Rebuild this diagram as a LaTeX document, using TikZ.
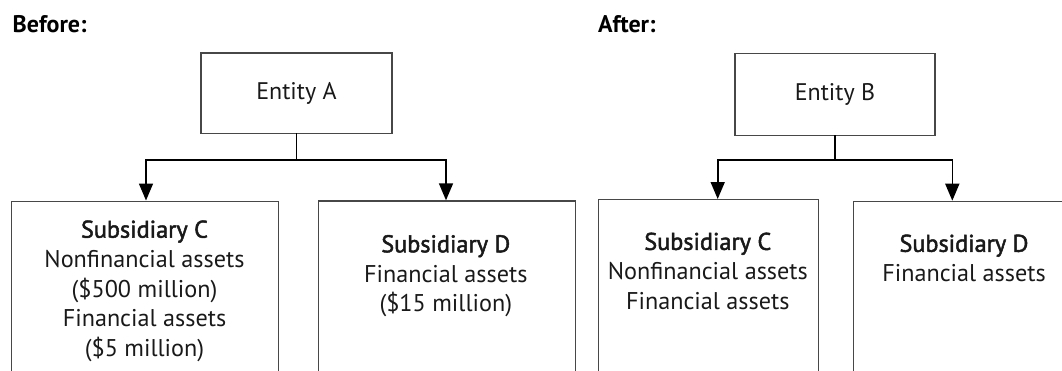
\documentclass[tikz,border=0pt]{standalone}
\usepackage{fontspec}
\setmainfont{PT Sans}
\newfontfamily\semib[FakeBold=2]{PT Sans}
\usetikzlibrary{arrows.meta}
\begin{document}
\begin{tikzpicture}[x=1pt,y=-1pt,
  box/.style={draw=black!72, line width=1.3pt, rectangle, inner sep=0pt, anchor=north west},
  ent/.style={draw=black!72, line width=1.3pt, rectangle, inner sep=0pt,
    font=\fontsize{24}{28}\selectfont, text=black!90},
  conn/.style={draw=black, line width=1.6pt},
  stem/.style={conn, line cap=rect},
  arr/.style={conn, -{Triangle[length=17pt,width=14pt]}},
  lbl/.style={font=\fontsize{24.2}{29.7}\selectfont, align=center, anchor=base, inner sep=0pt, text=black!90},
  head/.style={font=\fontsize{24}{28}\selectfont\bfseries, anchor=base west, inner sep=0pt, text=black}]
\useasboundingbox (0,0) rectangle (1062,370);
\clip (0,0) rectangle (1062,370);

% headings
\node[head] (before) at (12.5,32.3) {Before:};
\node[head] (after) at (598,32) {After:};

% top entities
\node[ent, minimum width=191pt, minimum height=80.5pt] (A) at (296.5,93.2) {Entity A};
\node[ent, minimum width=200pt, minimum height=82pt] (B) at (835,94.2) {Entity B};

% subsidiary boxes (extend below the picture)
\node[box, minimum width=267pt, minimum height=230pt] (C1) at (10.7,200.5) {};
\node[box, minimum width=257pt, minimum height=230pt] (D1) at (317.7,200.3) {};
\node[box, minimum width=220.3pt, minimum height=230pt] (C2) at (597.7,199) {};
\node[box, minimum width=260pt, minimum height=230pt] (D2) at (853,200.7) {};

% texts (anchored at the baseline of the last line)
\node[lbl] (tC1) at (144.5,356.5) {{\semib Subsidiary C}\\Nonfinancial assets\\(\$500 million)\\Financial assets\\(\$5 million)};
\node[lbl] (tD1) at (445.8,311.7) {{\semib Subsidiary D}\\Financial assets\\(\$15 million)};
\node[lbl] (tC2) at (707.8,309.3) {{\semib Subsidiary C}\\Nonfinancial assets\\Financial assets};
\node[lbl] (tD2) at (964,281.5) {{\semib Subsidiary D}\\Financial assets};

% connectors
\coordinate (jA) at (296.5,160);
\coordinate (inC1) at (146,200.5);
\coordinate (inD1) at (446,200.3);
\draw[stem] (A.south) -- (jA);
\draw[arr] (jA) -| (inC1);
\draw[arr] (jA) -| (inD1);

\coordinate (jB) at (835,160);
\coordinate (inC2) at (717.7,199);
\coordinate (inD2) at (952.3,200.7);
\draw[stem] (B.south) -- (jB);
\draw[arr] (jB) -| (inC2);
\draw[arr] (jB) -| (inD2);
\end{tikzpicture}
\end{document}
